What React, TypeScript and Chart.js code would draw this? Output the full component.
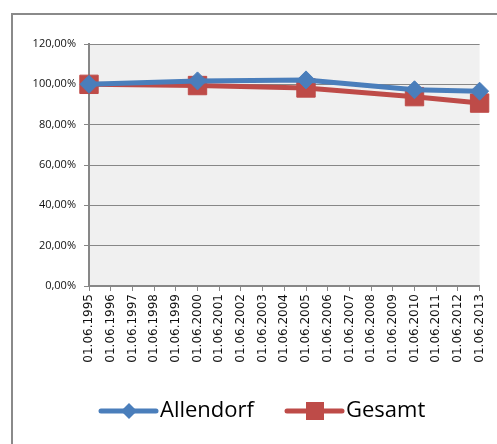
import React, { useEffect, useRef } from "react";
import { Chart, registerables } from "chart.js";

Chart.register(...registerables);

const years: string[] = [
  "01.06.1995", "01.06.1996", "01.06.1997", "01.06.1998", "01.06.1999",
  "01.06.2000", "01.06.2001", "01.06.2002", "01.06.2003", "01.06.2004",
  "01.06.2005", "01.06.2006", "01.06.2007", "01.06.2008", "01.06.2009",
  "01.06.2010", "01.06.2011", "01.06.2012", "01.06.2013",
];

const allendorf: (number | null)[] = [
  1.0, null, null, null, null,
  1.017, null, null, null, null,
  1.022, null, null, null, null,
  0.973, null, null, 0.966,
];

const gesamt: (number | null)[] = [
  1.0, null, null, null, null,
  0.994, null, null, null, null,
  0.982, null, null, null, null,
  0.939, null, null, 0.907,
];

const seriesNames = ["Allendorf", "Gesamt"];
const blue = "#4a7ebb";
const red = "#be4b48";

const fmt = (v: number) =>
  (v * 100).toFixed(2).replace(".", ",") + "%";

const bgPlugin = {
  id: "plotBg",
  beforeDraw(chart: any) {
    const { ctx, chartArea } = chart;
    ctx.save();
    ctx.fillStyle = "#f0f0f0";
    ctx.fillRect(chartArea.left, chartArea.top, chartArea.right - chartArea.left, chartArea.bottom - chartArea.top);
    ctx.restore();
  },
};

const legendPlugin = {
  id: "customLegend",
  afterDraw(chart: any) {
    const { ctx } = chart;
    const y = 411;
    ctx.save();
    ctx.font = "22px 'Open Sans'";
    ctx.textBaseline = "middle";
    const entries = [
      { x: 101, name: seriesNames[0], color: blue, style: "diamond" },
      { x: 287, name: seriesNames[1], color: red, style: "square" },
    ];
    entries.forEach((e) => {
      ctx.strokeStyle = e.color;
      ctx.lineWidth = 5;
      ctx.lineCap = "round";
      ctx.beginPath();
      ctx.moveTo(e.x, y);
      ctx.lineTo(e.x + 55, y);
      ctx.stroke();
      ctx.fillStyle = e.color;
      const cx = e.x + 28;
      if (e.style === "diamond") {
        ctx.beginPath();
        ctx.moveTo(cx, y - 8);
        ctx.lineTo(cx + 8, y);
        ctx.lineTo(cx, y + 8);
        ctx.lineTo(cx - 8, y);
        ctx.closePath();
        ctx.fill();
      } else {
        ctx.fillRect(cx - 9, y - 9, 18, 18);
      }
      ctx.fillStyle = "#000";
      ctx.textAlign = "left";
      ctx.fillText(e.name, e.x + 59, y);
    });
    ctx.restore();
  },
};

export default function App() {
  const ref = useRef<HTMLCanvasElement>(null);
  useEffect(() => {
    if (!ref.current) return;
    const chart = new Chart(ref.current, {
      type: "line",
      data: {
        labels: years,
        datasets: [
          {
            label: seriesNames[0],
            data: allendorf,
            borderColor: blue,
            backgroundColor: blue,
            borderWidth: 5,
            pointStyle: "rectRot",
            pointRadius: 9,
            pointBorderWidth: 1,
            spanGaps: true,
          },
          {
            label: seriesNames[1],
            data: gesamt,
            borderColor: red,
            backgroundColor: red,
            borderWidth: 5,
            pointStyle: "rect",
            pointRadius: 13,
            pointBorderWidth: 1,
            spanGaps: true,
          },
        ],
      },
      options: {
        responsive: false,
        animation: false,
        layout: { padding: { left: 0, top: 44, right: 15, bottom: 0 } },
        plugins: {
          legend: { display: false },
          tooltip: { enabled: false },
          title: { display: false },
        },
        scales: {
          x: {
            offset: false,
            afterFit: (s: any) => { s.height = 158; },
            grid: {
              display: true,
              drawOnChartArea: false,
              drawTicks: true,
              tickLength: 5,
              color: "#878787",
              lineWidth: 1,
            },
            border: { display: true, color: "#878787", width: 2 },
            ticks: {
              autoSkip: false,
              maxRotation: 90,
              minRotation: 90,
              padding: 3,
              color: "#111",
              font: { family: "'DejaVu Sans'", size: 12 },
            },
          },
          y: {
            min: 0,
            max: 1.2,
            afterFit: (s: any) => { s.width = 89; },
            grid: {
              color: "#878787",
              lineWidth: 1,
              drawTicks: true,
              tickLength: 5,
            },
            border: { display: true, color: "#878787", width: 2 },
            ticks: {
              stepSize: 0.2,
              padding: 8,
              color: "#111",
              font: { family: "'Open Sans'", size: 11 },
              callback: (v: any) => fmt(Number(v)),
            },
          },
        },
      },
      plugins: [bgPlugin, legendPlugin],
    });
    return () => chart.destroy();
  }, []);

  return (
    <div style={{ position: "fixed", left: 0, top: 0, width: 497, height: 444, background: "#fff", overflow: "hidden" }}>
      <div
        style={{
          position: "absolute",
          left: 11,
          top: 13,
          width: 486,
          height: 431,
          borderLeft: "2px solid #8a8a8a",
          borderTop: "2px solid #8a8a8a",
          boxSizing: "border-box",
        }}
      />
      <canvas ref={ref} width={497} height={444} style={{ position: "absolute", left: 0, top: 0 }} />
    </div>
  );
}
